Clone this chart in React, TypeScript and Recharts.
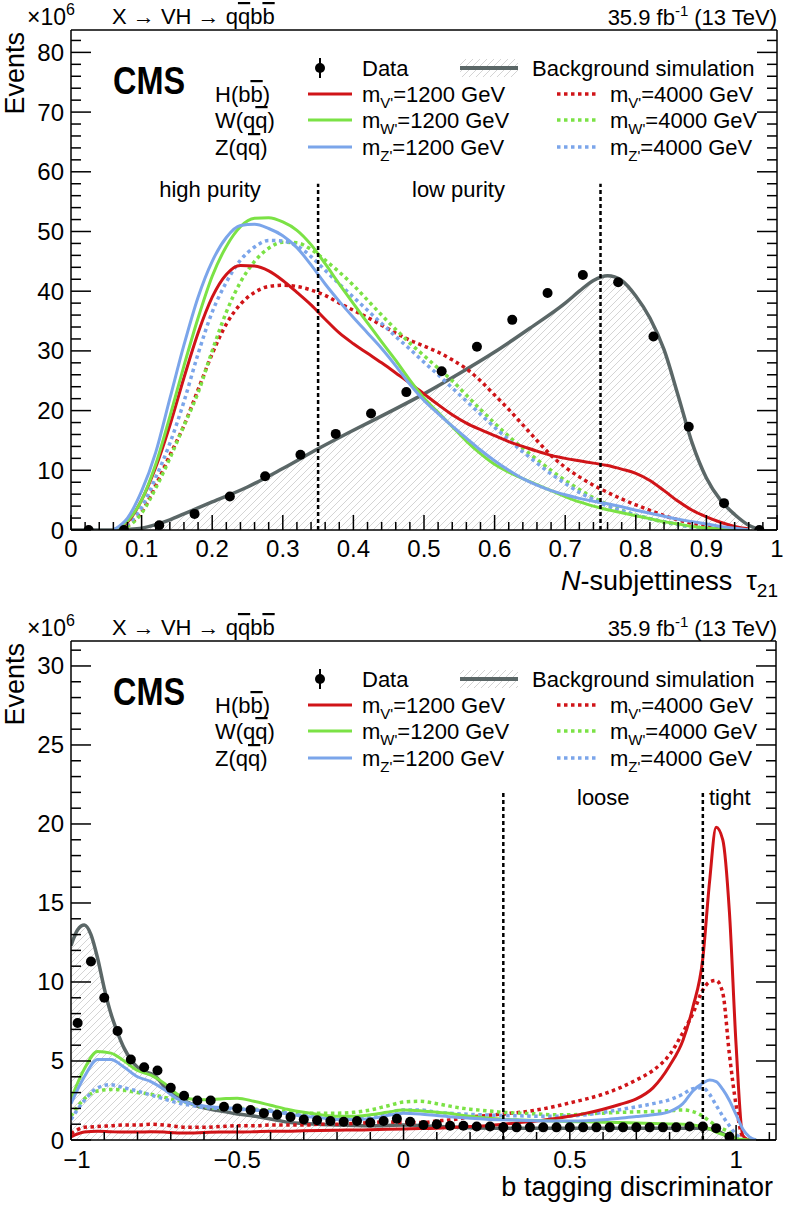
import React from 'react';
import { ComposedChart, Line, Area, Scatter, XAxis, YAxis, ReferenceLine } from 'recharts';

const FONT = '"Liberation Sans", Arial, Helvetica, sans-serif';
const RED = '#d01418';
const GREEN = '#7be245';
const BLUE = '#7ba5ea';
const GRAY = '#5b6767';

// ---------- top panel: N-subjettiness tau21 ----------
const tauX = [0.06, 0.08, 0.10, 0.12, 0.14, 0.16, 0.18, 0.20, 0.22, 0.24, 0.26, 0.28, 0.30, 0.32, 0.34, 0.36, 0.38, 0.40, 0.42, 0.44, 0.46, 0.48, 0.50, 0.52, 0.54, 0.56, 0.58, 0.60, 0.62, 0.64, 0.66, 0.68, 0.70, 0.72, 0.74, 0.76, 0.78, 0.80, 0.82, 0.84, 0.86, 0.88, 0.90, 0.92, 0.94, 0.96];
const tauH1200 = [0, 1.3, 5, 10.5, 17.5, 25.5, 33, 39, 42.8, 44.3, 44.2, 43.4, 41.8, 39.8, 37.7, 35.3, 33, 31.2, 29.6, 28, 26.3, 24.6, 22.8, 21, 19.3, 17.9, 16.8, 15.8, 14.8, 14, 13.2, 12.5, 12, 11.6, 11.2, 10.8, 10.2, 9.5, 8.3, 6.6, 4.8, 3.3, 2.2, 1.3, 0.6, 0.2];
const tauW1200 = [0, 1.5, 5, 11, 19, 27.5, 35.5, 42.5, 47.5, 50.8, 52.2, 52.3, 51.6, 50.2, 47.8, 44.6, 41.2, 37.9, 34.7, 31.5, 28.4, 25.1, 22.1, 19.7, 17.3, 14.9, 12.8, 11, 9.7, 8.6, 7.6, 6.6, 5.6, 4.7, 4, 3.4, 2.9, 2.4, 1.9, 1.4, 1, 0.6, 0.35, 0.2, 0.08, 0];
const tauZ1200 = [0, 2, 6.5, 13, 22, 31, 39, 45, 49, 51, 51.2, 50.5, 49.3, 47.3, 44.4, 41.2, 38.3, 35.6, 33, 30.4, 27.5, 24.4, 21.7, 19.5, 17.4, 15.4, 13.4, 11.6, 10, 8.6, 7.5, 6.6, 5.9, 5.3, 4.8, 4.4, 3.9, 3.3, 2.8, 2.3, 1.8, 1.4, 1, 0.6, 0.3, 0];
const tauH4000 = [0, 0.8, 3, 7.5, 12.5, 17.5, 23.5, 29.5, 34.5, 37.8, 39.8, 40.8, 41, 40.8, 40.2, 39.3, 38, 36.8, 35.6, 34.3, 33, 31.8, 30.8, 29.8, 28.5, 27, 25, 22.6, 20.2, 17.6, 15, 12.5, 10.5, 8.9, 7.5, 6.3, 5.2, 4.2, 3.3, 2.4, 1.7, 1.1, 0.7, 0.4, 0.2, 0];
const tauW4000 = [0, 0.6, 2.8, 7, 12, 17.5, 23, 30, 36.5, 41.5, 45, 47.2, 48.2, 48.1, 47, 45.2, 43.2, 41, 38.5, 36, 33.6, 31.3, 29.2, 27.1, 25, 22.6, 20.2, 17.9, 15.7, 13.7, 11.8, 10, 8.3, 6.8, 5.4, 4.3, 3.3, 2.5, 1.9, 1.3, 0.9, 0.5, 0.3, 0.15, 0.05, 0];
const tauZ4000 = [0, 1, 3.8, 8.8, 14.5, 21.5, 29.5, 36.5, 41.5, 45.2, 47.4, 48.5, 48.4, 47.6, 45.8, 43.5, 41.2, 39, 36.8, 34.6, 32.4, 30.3, 28.1, 26, 23.8, 21.6, 19.4, 17.2, 15.1, 13.1, 11.2, 9.4, 7.8, 6.3, 5.1, 4, 3.2, 2.5, 1.9, 1.4, 0.9, 0.5, 0.3, 0.15, 0.05, 0];
const tauBgX = [0, 0.06, 0.08, 0.10, 0.12, 0.14, 0.16, 0.18, 0.20, 0.25, 0.30, 0.35, 0.40, 0.45, 0.50, 0.55, 0.60, 0.65, 0.70, 0.72, 0.74, 0.76, 0.78, 0.80, 0.82, 0.84, 0.86, 0.88, 0.90, 0.92, 0.94, 0.96, 0.98];
const tauBg = [0, 0, 0.1, 0.3, 0.9, 1.7, 2.7, 3.7, 4.7, 7.2, 10.3, 13.6, 16.7, 19.7, 22.8, 26.2, 29.8, 33.8, 38, 40, 41.8, 42.6, 41.8, 39.2, 35.5, 30.2, 22.5, 14.5, 8.7, 5, 2.6, 0.8, 0];
const tauDataX = [0.025, 0.075, 0.125, 0.175, 0.225, 0.275, 0.325, 0.375, 0.425, 0.475, 0.525, 0.575, 0.625, 0.675, 0.725, 0.775, 0.825, 0.875, 0.925, 0.975];
const tauData = [0, 0, 0.8, 2.7, 5.6, 9, 12.6, 16.1, 19.5, 23.1, 26.6, 30.7, 35.2, 39.7, 42.7, 41.5, 32.4, 17.3, 4.5, 0];
const tauXLabels = ['0', '0.1', '0.2', '0.3', '0.4', '0.5', '0.6', '0.7', '0.8', '0.9', '1'];
const tauYLabels = ['0', '10', '20', '30', '40', '50', '60', '70', '80'];
const tauCuts = [0.35, 0.75];

// ---------- bottom panel: b tagging discriminator ----------
const btagX = [-1, -0.96, -0.92, -0.88, -0.84, -0.80, -0.76, -0.72, -0.68, -0.64, -0.60, -0.55, -0.50, -0.45, -0.40, -0.35, -0.30, -0.25, -0.20, -0.15, -0.10, -0.05, 0, 0.05, 0.10, 0.15, 0.20, 0.25, 0.30, 0.35, 0.40, 0.45, 0.50, 0.55, 0.60, 0.65, 0.70, 0.75, 0.80, 0.84, 0.87, 0.90, 0.92, 0.94, 0.96, 0.98, 1.00, 1.02, 1.04, 1.06];
const btagH1200 = [0.2, 0.5, 0.55, 0.52, 0.5, 0.5, 0.52, 0.5, 0.45, 0.45, 0.48, 0.5, 0.5, 0.52, 0.55, 0.55, 0.58, 0.6, 0.62, 0.63, 0.65, 0.68, 0.7, 0.72, 0.75, 0.8, 0.85, 0.9, 1.0, 1.1, 1.2, 1.35, 1.5, 1.7, 1.95, 2.25, 2.6, 3.3, 4.7, 6.3, 8.4, 11.5, 16.3, 19.8, 19, 14.4, 6, 0.3, 0, 0];
const btagW1200 = [2.6, 4.5, 5.6, 5.5, 5.0, 4.4, 4.1, 3.6, 2.9, 2.6, 2.55, 2.6, 2.65, 2.45, 2.2, 1.95, 1.75, 1.6, 1.5, 1.5, 1.6, 1.75, 1.9, 1.85, 1.75, 1.65, 1.5, 1.4, 1.32, 1.27, 1.23, 1.2, 1.17, 1.15, 1.12, 1.1, 1.08, 1.05, 1.02, 1.0, 0.95, 0.85, 0.7, 0.5, 0.35, 0.2, 0.1, 0.03, 0, 0];
const btagZ1200 = [2.3, 4.0, 5.1, 5.1, 4.6, 4.0, 3.7, 3.2, 2.6, 2.3, 2.15, 2.05, 2.0, 1.9, 1.8, 1.65, 1.5, 1.4, 1.3, 1.3, 1.35, 1.55, 1.7, 1.65, 1.55, 1.45, 1.38, 1.32, 1.28, 1.25, 1.22, 1.2, 1.2, 1.22, 1.28, 1.38, 1.48, 1.6, 1.8, 2.3, 3.1, 3.6, 3.8, 3.7, 3.2, 2.5, 1.6, 0.7, 0.2, 0];
const btagH4000 = [0.4, 0.8, 0.85, 0.9, 0.95, 0.95, 1.0, 0.95, 0.85, 0.8, 0.8, 0.85, 0.9, 0.9, 0.95, 0.95, 0.95, 1.0, 1.0, 1.05, 1.1, 1.15, 1.1, 1.1, 1.2, 1.3, 1.45, 1.55, 1.65, 1.75, 1.9, 2.1, 2.35, 2.6, 2.9, 3.3, 3.8, 4.4, 5.4, 6.8, 8, 9.5, 10, 10.1, 9.3, 5.4, 2.2, 0.2, 0, 0];
const btagW4000 = [1.5, 2.6, 3.1, 3.2, 3.15, 3.0, 2.9, 2.7, 2.5, 2.3, 2.1, 2.0, 2.0, 1.95, 1.9, 1.8, 1.7, 1.7, 1.7, 1.75, 1.9, 2.15, 2.4, 2.45, 2.3, 2.1, 1.95, 1.85, 1.75, 1.7, 1.65, 1.6, 1.6, 1.65, 1.7, 1.75, 1.78, 1.8, 1.85, 1.9, 1.8, 1.5, 1.2, 0.9, 0.7, 0.5, 0.25, 0.05, 0, 0];
const btagZ4000 = [1.3, 2.5, 3.3, 3.5, 3.3, 3.1, 2.85, 2.6, 2.35, 2.2, 2.05, 2.0, 1.95, 1.9, 1.85, 1.7, 1.55, 1.45, 1.4, 1.42, 1.5, 1.7, 1.9, 1.9, 1.75, 1.68, 1.62, 1.58, 1.55, 1.53, 1.5, 1.5, 1.52, 1.6, 1.75, 1.92, 2.1, 2.3, 2.55, 2.9, 3.25, 3.3, 2.9, 2.2, 1.5, 0.9, 0.35, 0.1, 0, 0];
const btagBgX = [-1, -0.98, -0.96, -0.94, -0.92, -0.90, -0.88, -0.86, -0.84, -0.82, -0.80, -0.78, -0.76, -0.74, -0.72, -0.70, -0.66, -0.62, -0.58, -0.54, -0.50, -0.46, -0.42, -0.38, -0.34, -0.30, -0.20, -0.10, 0, 0.10, 0.20, 0.30, 0.40, 0.50, 0.60, 0.70, 0.80, 0.90, 0.94, 0.98, 1.00, 1.02, 1.06];
const btagBg = [12.3, 13.3, 13.6, 13.0, 11.5, 9.6, 8.0, 6.8, 5.8, 5.1, 4.6, 4.35, 4.2, 3.9, 3.4, 3.0, 2.5, 2.15, 1.95, 1.8, 1.65, 1.55, 1.4, 1.25, 1.1, 1.05, 0.95, 0.9, 0.95, 0.85, 0.78, 0.75, 0.75, 0.75, 0.75, 0.75, 0.75, 0.75, 0.6, 0.2, 0.05, 0, 0];
const btagDataX = [-0.98, -0.94, -0.90, -0.86, -0.82, -0.78, -0.74, -0.70, -0.66, -0.62, -0.58, -0.54, -0.50, -0.46, -0.42, -0.38, -0.34, -0.30, -0.26, -0.22, -0.18, -0.14, -0.10, -0.06, -0.02, 0.02, 0.06, 0.10, 0.14, 0.18, 0.22, 0.26, 0.30, 0.34, 0.38, 0.42, 0.46, 0.50, 0.54, 0.58, 0.62, 0.66, 0.70, 0.74, 0.78, 0.82, 0.86, 0.90, 0.94, 0.98];
const btagData = [7.4, 11.3, 9.0, 6.9, 5.1, 4.6, 4.4, 3.3, 2.8, 2.5, 2.5, 2.1, 2.0, 1.9, 1.7, 1.6, 1.45, 1.3, 1.25, 1.2, 1.15, 1.2, 1.1, 1.2, 1.35, 1.15, 0.95, 1.0, 0.9, 0.9, 0.85, 0.85, 0.8, 0.8, 0.8, 0.8, 0.8, 0.8, 0.8, 0.8, 0.8, 0.8, 0.8, 0.8, 0.8, 0.8, 0.85, 0.85, 0.75, 0.2];
const btagXLabels = ['\u22121', '\u22120.5', '0', '0.5', '1'];
const btagYLabels = ['0', '5', '10', '15', '20', '25', '30'];
const btagCuts = [0.3, 0.9];

const pts = (xs: number[], ys: number[]) => xs.map((x, i) => ({ x, y: ys[i] }));
const tickList = (start: number, step: number, count: number) =>
  Array.from({ length: count }, (_, i) => +(start + i * step).toFixed(4));

type Side = 'bottom' | 'top' | 'left' | 'right';

// inward-pointing ROOT style ticks, labels only on majors
const axisTick = (side: Side, start: number, step: number, every: number, major: number, minor: number,
  labels?: string[], gap = 27, firstShift = 0) =>
  (props: any) => {
    const { x, y, payload } = props;
    const k = Math.round((payload.value - start) / step);
    const isMajor = k % every === 0;
    const len = isMajor ? major : minor;
    const label = isMajor && labels ? labels[k / every] : undefined;
    let x2 = x, y2 = y;
    if (side === 'bottom') y2 = y - len;
    if (side === 'top') y2 = y + len;
    if (side === 'left') x2 = x + len;
    if (side === 'right') x2 = x - len;
    return (
      <g>
        <line x1={x} y1={y} x2={x2} y2={y2} stroke="#000" strokeWidth={1.5} />
        {label !== undefined && side === 'bottom' && (
          <text x={x + (k === 0 ? firstShift : 0)} y={y + gap} textAnchor="middle" fontSize={24} fontFamily={FONT} fill="#000">{label}</text>
        )}
        {label !== undefined && side === 'left' && (
          <text x={x - 7} y={y + 8.5} textAnchor="end" fontSize={24} fontFamily={FONT} fill="#000">{label}</text>
        )}
      </g>
    );
  };

const AXIS_LINE = { stroke: '#000', strokeWidth: 1.5 };

const solid = (data: any[], color: string) => (
  <Line data={data} dataKey="y" type="monotone" stroke={color} strokeWidth={3} dot={false} activeDot={false} isAnimationActive={false} />
);
const dotted = (data: any[], color: string) => (
  <Line data={data} dataKey="y" type="monotone" stroke={color} strokeWidth={3.5} strokeDasharray="3.5 3.5" dot={false} activeDot={false} isAnimationActive={false} />
);
const dataShape = (p: any) => <circle cx={p.cx} cy={p.cy} r={5} fill="#000" />;

const TauChart = () => {
  const xt = tickList(0, 0.02, 51);
  const yt = tickList(0, 2, 42);
  return (
    <ComposedChart width={786} height={600} margin={{ top: 29, right: 8, bottom: 40, left: 11 }}>
      <XAxis xAxisId={0} dataKey="x" type="number" domain={[0, 1]} allowDataOverflow ticks={xt} interval={0} height={30}
        tickSize={0} tickMargin={0} axisLine={AXIS_LINE} tickLine={false} tick={axisTick('bottom', 0, 0.02, 5, 15, 8, tauXLabels)} />
      <XAxis xAxisId="top" orientation="top" type="number" domain={[0, 1]} allowDataOverflow ticks={xt} interval={0} height={1}
        tickSize={0} tickMargin={0} axisLine={AXIS_LINE} tickLine={false} tick={axisTick('top', 0, 0.02, 5, 15, 8)} />
      <YAxis yAxisId={0} dataKey="y" type="number" domain={[0, 83.75]} allowDataOverflow ticks={yt} interval={0} width={60}
        tickSize={0} tickMargin={0} axisLine={AXIS_LINE} tickLine={false} tick={axisTick('left', 0, 2, 5, 20, 10, tauYLabels)} />
      <YAxis yAxisId="right" orientation="right" type="number" domain={[0, 83.75]} allowDataOverflow ticks={yt} interval={0} width={1}
        tickSize={0} tickMargin={0} axisLine={AXIS_LINE} tickLine={false} tick={axisTick('right', 0, 2, 5, 20, 10)} />
      <Area data={pts(tauBgX, tauBg)} dataKey="y" type="monotone" stroke={GRAY} strokeWidth={3.5} fill="url(#hatch)" fillOpacity={1} isAnimationActive={false} />
      {dotted(pts(tauX, tauH4000), RED)}
      {dotted(pts(tauX, tauW4000), GREEN)}
      {dotted(pts(tauX, tauZ4000), BLUE)}
      {solid(pts(tauX, tauH1200), RED)}
      {solid(pts(tauX, tauW1200), GREEN)}
      {solid(pts(tauX, tauZ1200), BLUE)}
      {tauCuts.map((c) => (
        <ReferenceLine key={c} segment={[{ x: c, y: 0 }, { x: c, y: 58 }]} stroke="#000" strokeWidth={2.5} strokeDasharray="4 3" />
      ))}
      <Scatter data={pts(tauDataX, tauData)} dataKey="y" shape={dataShape} isAnimationActive={false} />
    </ComposedChart>
  );
};

const BtagChart = () => {
  const xt = tickList(-1, 0.1, 22);
  const yt = tickList(0, 1, 32);
  return (
    <ComposedChart width={786} height={607} margin={{ top: 40, right: 9, bottom: 37, left: 11 }}>
      <XAxis xAxisId={0} dataKey="x" type="number" domain={[-1, 1.12]} allowDataOverflow ticks={xt} interval={0} height={30}
        tickSize={0} tickMargin={0} axisLine={AXIS_LINE} tickLine={false} tick={axisTick('bottom', -1, 0.1, 5, 15, 8, btagXLabels, 28, 6)} />
      <XAxis xAxisId="top" orientation="top" type="number" domain={[-1, 1.12]} allowDataOverflow ticks={xt} interval={0} height={1}
        tickSize={0} tickMargin={0} axisLine={AXIS_LINE} tickLine={false} tick={axisTick('top', -1, 0.1, 5, 15, 8)} />
      <YAxis yAxisId={0} dataKey="y" type="number" domain={[0, 31.58]} allowDataOverflow ticks={yt} interval={0} width={60}
        tickSize={0} tickMargin={0} axisLine={AXIS_LINE} tickLine={false} tick={axisTick('left', 0, 1, 5, 20, 10, btagYLabels)} />
      <YAxis yAxisId="right" orientation="right" type="number" domain={[0, 31.58]} allowDataOverflow ticks={yt} interval={0} width={1}
        tickSize={0} tickMargin={0} axisLine={AXIS_LINE} tickLine={false} tick={axisTick('right', 0, 1, 5, 20, 10)} />
      <Area data={pts(btagBgX, btagBg)} dataKey="y" type="monotone" stroke={GRAY} strokeWidth={3.5} fill="url(#hatch)" fillOpacity={1} isAnimationActive={false} />
      {dotted(pts(btagX, btagH4000), RED)}
      {dotted(pts(btagX, btagW4000), GREEN)}
      {dotted(pts(btagX, btagZ4000), BLUE)}
      {solid(pts(btagX, btagH1200), RED)}
      {solid(pts(btagX, btagW1200), GREEN)}
      {solid(pts(btagX, btagZ1200), BLUE)}
      {btagCuts.map((c) => (
        <ReferenceLine key={c} segment={[{ x: c, y: 0 }, { x: c, y: 22 }]} stroke="#000" strokeWidth={2.5} strokeDasharray="4 3" />
      ))}
      <Scatter data={pts(btagDataX, btagData)} dataKey="y" shape={dataShape} isAnimationActive={false} />
    </ComposedChart>
  );
};

const OL = { textDecoration: 'overline' } as React.CSSProperties;

// header, CMS label, legend and Events title, shared by both panels
const PanelText = ({ t }: { t: number }) => {
  const rows = [t + 38, t + 64, t + 90, t + 117];
  const sig = [
    { name: <>H(b<tspan style={OL}>b</tspan>)</>, sub: "V'", color: RED },
    { name: <>W(q<tspan style={OL}>q</tspan>)</>, sub: "W'", color: GREEN },
    { name: <>Z(q<tspan style={OL}>q</tspan>)</>, sub: "Z'", color: BLUE },
  ];
  return (
    <g fontFamily={FONT} fill="#000">
      <text x={27} y={t - 5} fontSize={23}>×10<tspan dy={-10} fontSize={16}>6</tspan></text>
      <text x={112} y={t - 6} fontSize={22}>X → VH → q<tspan style={OL}>q</tspan>b<tspan style={OL}>b</tspan></text>
      <text x={777} y={t - 5} fontSize={22} textAnchor="end">35.9 fb<tspan dy={-9} fontSize={15}>-1</tspan><tspan dy={9} dx={6}>(13 TeV)</tspan></text>
      <text x={24} y={t + 2} fontSize={27} textAnchor="end" transform={`rotate(-90, 24, ${t + 2})`}>Events</text>
      <text x={113} y={t + 64} fontSize={39} fontWeight="bold" textLength={72} lengthAdjust="spacingAndGlyphs">CMS</text>

      <line x1={320} x2={320} y1={rows[0] - 10} y2={rows[0] + 10} stroke="#000" strokeWidth={2} />
      <circle cx={320} cy={rows[0]} r={5} fill="#000" />
      <text x={362} y={rows[0] + 8} fontSize={22}>Data</text>
      <rect x={460} y={rows[0] - 9} width={58} height={18} fill="url(#hatch)" />
      <line x1={460} x2={518} y1={rows[0]} y2={rows[0]} stroke={GRAY} strokeWidth={4} />
      <text x={532} y={rows[0] + 8} fontSize={22}>Background simulation</text>

      {sig.map((s, i) => (
        <g key={i}>
          <text x={215} y={rows[i + 1] + 8} fontSize={22}>{s.name}</text>
          <line x1={308} x2={352} y1={rows[i + 1]} y2={rows[i + 1]} stroke={s.color} strokeWidth={3} />
          <text x={362} y={rows[i + 1] + 8} fontSize={22}>m<tspan dy={6} fontSize={15}>{s.sub}</tspan><tspan dy={-6}>=1200 GeV</tspan></text>
          <line x1={557} x2={598} y1={rows[i + 1]} y2={rows[i + 1]} stroke={s.color} strokeWidth={3.5} strokeDasharray="3.5 3.5" />
          <text x={610} y={rows[i + 1] + 8} fontSize={22}>m<tspan dy={6} fontSize={15}>{s.sub}</tspan><tspan dy={-6}>=4000 GeV</tspan></text>
        </g>
      ))}
    </g>
  );
};

export default function App() {
  return (
    <div style={{ position: 'absolute', left: 0, top: 0, width: 786, height: 1207, background: '#fff', overflow: 'hidden' }}>
      <div style={{ position: 'absolute', left: 0, top: 0 }}>
        <TauChart />
      </div>
      <div style={{ position: 'absolute', left: 0, top: 600 }}>
        <BtagChart />
      </div>
      <svg width={786} height={1207} style={{ position: 'absolute', left: 0, top: 0, pointerEvents: 'none' }}>
        <defs>
          <pattern id="hatch" patternUnits="userSpaceOnUse" width={7} height={7}>
            <path d="M-1,1 l2,-2 M0,7 l7,-7 M6,8 l2,-2" stroke="#c9c9c9" strokeWidth={0.8} />
          </pattern>
        </defs>
        <PanelText t={30} />
        <PanelText t={641} />
        <g fontFamily={FONT} fill="#000" fontSize={22}>
          <text x={210} y={197} textAnchor="middle">high purity</text>
          <text x={412} y={197}>low purity</text>
          <text x={577} y={805}>loose</text>
          <text x={709} y={805}>tight</text>
        </g>
        <g fontFamily={FONT} fill="#000" fontSize={27}>
          <text x={778} y={590} textAnchor="end">
            <tspan fontStyle="italic">N</tspan>-subjettiness<tspan dx={14}>τ</tspan><tspan dy={7} fontSize={19}>21</tspan>
          </text>
          <text x={773} y={1196} textAnchor="end">b tagging discriminator</text>
        </g>
      </svg>
    </div>
  );
}
